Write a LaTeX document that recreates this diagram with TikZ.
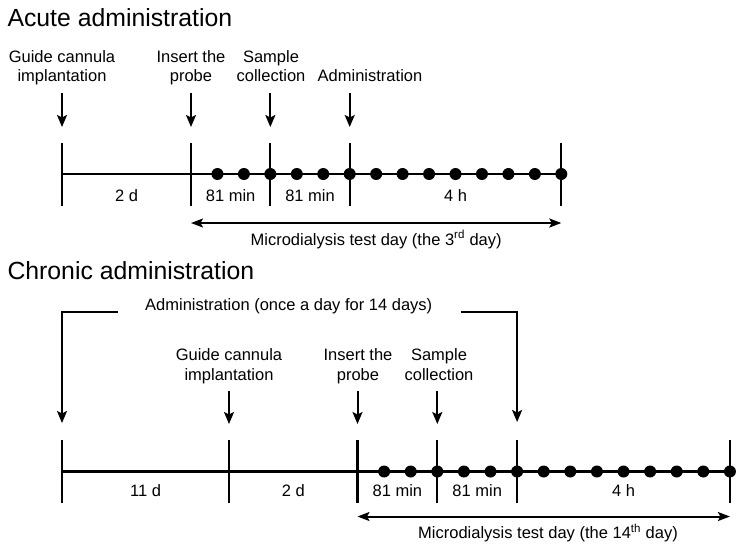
\documentclass[tikz,border=0pt]{standalone}
\usepackage{fontspec}
\setmainfont{Liberation Sans}
\usetikzlibrary{arrows.meta,calc}
\begin{document}
\begin{tikzpicture}[x=1pt,y=-1pt,
  lbl/.style={font=\fontsize{16.5}{19.5}\selectfont, align=center, inner sep=0pt, anchor=base},
  ttl/.style={font=\fontsize{24.8}{30}\selectfont, inner sep=0pt, anchor=base west},
  tline/.style={line width=2.2pt},
  tickln/.style={line width=2.2pt},
  arr/.style={line width=2pt, -{Stealth[length=12pt,width=10pt,inset=2.5pt]}},
  darr/.style={line width=2pt, {Stealth[length=12pt,width=9pt,inset=2.5pt]}-{Stealth[length=12pt,width=9pt,inset=2.5pt]}},
  dotn/.style={circle, fill=black, inner sep=0pt, minimum size=12pt}
]
\useasboundingbox (0,0) rectangle (738,550);
\fill[white] (0,0) rectangle (738,550);

% ---------- Acute ----------
\node[ttl] (t1) at (7.3,26) {Acute administration};

\coordinate (a0) at (62,174);
\coordinate (a1) at (191,174);
\coordinate (a2) at (270.35,174);
\coordinate (a3) at (349.7,174);
\coordinate (a4) at (561.3,174);

\draw[tline] (a0) -- (a4);
\foreach \n in {a0,a1,a2,a3,a4}
  \draw[tickln] ($(\n)+(0,-31)$) -- ($(\n)+(0,32)$);
\foreach \k in {1,...,14}
  \node[dotn] (ad\k) at ($(a1)+(\k*26.45,0)$) {};

\node[lbl] (ag) at (62,81.5) {Guide cannula\\implantation};
\node[lbl] (ai) at (191,81.5) {Insert the\\probe};
\node[lbl] (as) at (271,81.5) {Sample\\collection};
\node[lbl] (aa) at (370,81.5) {Administration};

\foreach \n in {a0,a1,a2,a3}
  \draw[arr] ($(\n)+(0,-81)$) -- ($(\n)+(0,-47)$);

\node[lbl, yshift=-27pt] (al1) at ($(a0)!0.5!(a1)$) {2 d};
\node[lbl, yshift=-27pt] (al2) at ($(a1)!0.5!(a2)$) {81 min};
\node[lbl, yshift=-27pt] (al3) at ($(a2)!0.5!(a3)$) {81 min};
\node[lbl, yshift=-27pt] (al4) at ($(a3)!0.5!(a4)$) {4 h};

\draw[darr] ($(a1)+(0,49)$) -- ($(a4)+(0,49)$);
\node[lbl, yshift=-71pt] (amd) at ($(a1)!0.5!(a4)$) {Microdialysis test day (the 3\textsuperscript{rd} day)};

% ---------- Chronic ----------
\node[ttl] (t2) at (7.3,279.5) {Chronic administration};

\coordinate (b0) at (62,471.5);
\coordinate (b1) at (229,471.5);
\coordinate (b2) at (357.5,471.5);
\coordinate (b3) at (437.3,471.5);
\coordinate (b4) at (517.1,471.5);
\coordinate (b5) at (729.9,471.5);

\draw[tline] (b0) -- (b5);
\foreach \n in {b0,b1,b2,b3,b4,b5}
  \draw[tickln] ($(\n)+(0,-31.5)$) -- ($(\n)+(0,31)$);
\foreach \k in {1,...,14}
  \node[dotn] (bd\k) at ($(b2)+(\k*26.6,0)$) {};

\node[lbl] (ca) at (288.7,310.5) {Administration (once a day for 14 days)};
\node[lbl] (bg) at (229,380) {Guide cannula\\implantation};
\node[lbl] (bi) at (358,380) {Insert the\\probe};
\node[lbl] (bs) at (439,380) {Sample\\collection};

\foreach \n in {b1,b2,b3}
  \draw[arr] ($(\n)+(0,-80.5)$) -- ($(\n)+(0,-47.5)$);

\draw[arr] ($(ca.base west)+(-27,1)$) -| ($(b0)+(0,-48.5)$);
\draw[arr] ($(ca.base east)+(28.5,1)$) -| ($(b4)+(0,-49.5)$);

\node[lbl, yshift=-24.5pt] (bl1) at ($(b0)!0.5!(b1)$) {11 d};
\node[lbl, yshift=-24.5pt] (bl2) at ($(b1)!0.5!(b2)$) {2 d};
\node[lbl, yshift=-24.5pt] (bl3) at ($(b2)!0.5!(b3)$) {81 min};
\node[lbl, yshift=-24.5pt] (bl4) at ($(b3)!0.5!(b4)$) {81 min};
\node[lbl, yshift=-24.5pt] (bl5) at ($(b4)!0.5!(b5)$) {4 h};

\draw[darr] ($(b2)+(0,45)$) -- ($(b5)+(0,45)$);
\node[lbl] (bmd) at (548,538.5) {Microdialysis test day (the 14\textsuperscript{th} day)};
\end{tikzpicture}
\end{document}
